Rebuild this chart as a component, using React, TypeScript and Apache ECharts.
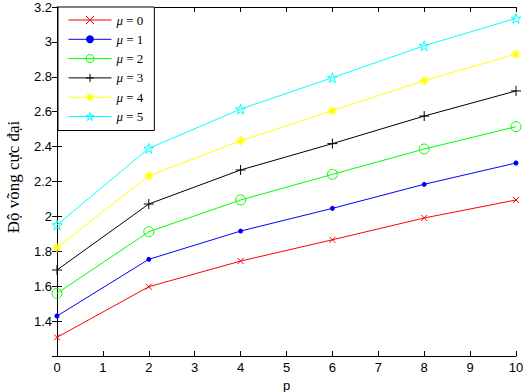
import React, { useEffect, useRef } from "react";
import * as echarts from "echarts";

const pValues = [0, 2, 4, 6, 8, 10];
const mu0 = [1.307, 1.597, 1.744, 1.866, 1.991, 2.094];
const mu1 = [1.429, 1.754, 1.916, 2.046, 2.184, 2.306];
const mu2 = [1.559, 1.912, 2.094, 2.241, 2.386, 2.514];
const mu3 = [1.693, 2.071, 2.266, 2.417, 2.575, 2.719];
const mu4 = [1.821, 2.232, 2.434, 2.606, 2.778, 2.93];
const mu5 = [1.951, 2.39, 2.615, 2.795, 2.978, 3.135];
const seriesNames = ["μ = 0", "μ = 1", "μ = 2", "μ = 3", "μ = 4", "μ = 5"];
const colors = ["#ff0000", "#0000ff", "#00ff00", "#000000", "#ffff00", "#00ffff"];
const yTitle = "Độ võng cực đại";
const xTitle = "p";

const X_PATH = "path://M0,0 L10,10 M10,0 L0,10";
const PLUS_PATH = "path://M5,0 L5,10 M0,5 L10,5";
const AST_PATH = "path://M5,0 L5,10 M0,5 L10,5 M1.5,1.5 L8.5,8.5 M8.5,1.5 L1.5,8.5";
const STAR_PATH =
  "path://M5,0 L6.18,3.62 L10,3.62 L6.91,5.86 L8.09,9.5 L5,7.26 L1.91,9.5 L3.09,5.86 L0,3.62 L3.82,3.62 Z";

export default function App() {
  const ref = useRef<HTMLDivElement>(null);
  useEffect(() => {
    document.body.style.margin = "0";
    const chart = echarts.init(ref.current!, undefined, { renderer: "svg" });
    const dataSets = [mu0, mu1, mu2, mu3, mu4, mu5];
    const symbols = [
      { symbol: X_PATH, size: 6, fill: "transparent", bw: 1 },
      { symbol: "circle", size: 5, fill: colors[1], bw: 0 },
      { symbol: "circle", size: 10, fill: "transparent", bw: 1 },
      { symbol: PLUS_PATH, size: 10, fill: "transparent", bw: 1 },
      { symbol: AST_PATH, size: 9, fill: "transparent", bw: 1.3 },
      { symbol: STAR_PATH, size: 10, fill: "transparent", bw: 1 },
    ];
    const series = dataSets.map((d, i) => ({
      name: seriesNames[i],
      type: "line",
      data: d.map((v, j) => [pValues[j], v]),
      symbol: symbols[i].symbol,
      symbolSize: symbols[i].size,
      showSymbol: true,
      lineStyle: { color: colors[i], width: 1 },
      itemStyle: {
        color: symbols[i].fill,
        borderColor: colors[i],
        borderWidth: symbols[i].bw,
      },
      emphasis: { disabled: true },
      z: 3,
    }));
    const legendData = seriesNames.map((n, i) => ({
      name: n,
      itemStyle: {
        color: symbols[i].fill,
        borderColor: colors[i],
        borderWidth: symbols[i].bw,
      },
      lineStyle: { color: colors[i], width: 1 },
    }));
    const axisLine = { show: true, lineStyle: { color: "#000", width: 1 } };
    const labelStyle = { color: "#000", fontFamily: "Liberation Sans, Arial", fontSize: 13 };
    const serif = "Liberation Serif, Times New Roman, serif";
    chart.setOption({
      animation: false,
      backgroundColor: "#fff",
      grid: { left: 57, right: 7, top: 7, bottom: 36, outerBoundsMode: "none", containLabel: false },
      legend: {
        orient: "vertical",
        left: 58,
        top: 7,
        backgroundColor: "#fff",
        borderColor: "#000",
        borderWidth: 1,
        borderRadius: 0,
        padding: [6, 11, 7, 10],
        itemGap: 5.3,
        itemWidth: 43,
        itemHeight: 10,
        itemTextGap: 6,
        selectedMode: false,
        data: legendData,
        formatter: (name: string) => {
          const parts = name.split(" = ");
          return "{i|μ}{n| = " + parts[1] + "}";
        },
        textStyle: {
          color: "#000",
          fontFamily: serif,
          fontSize: 13,
          lineHeight: 14,
          rich: {
            i: { fontFamily: serif, fontStyle: "italic", fontSize: 13, lineHeight: 14, color: "#000" },
            n: { fontFamily: serif, fontSize: 13, lineHeight: 14, color: "#000" },
          },
        },
        z: 10,
      },
      graphic: [
        {
          type: "text",
          x: 13,
          y: 177,
          rotation: Math.PI / 2,
          style: {
            text: yTitle,
            fontFamily: serif,
            fontSize: 17,
            fill: "#000",
            align: "center",
            verticalAlign: "middle",
          },
        },
      ],
      xAxis: [
        {
          type: "value",
          min: 0,
          max: 10,
          interval: 1,
          position: "bottom",
          name: xTitle,
          nameLocation: "middle",
          nameGap: 21,
          nameTextStyle: { color: "#000", fontFamily: "Liberation Sans, Arial", fontSize: 13 },
          axisLine,
          axisTick: { show: true, inside: true, length: 5, lineStyle: { color: "#000" } },
          axisLabel: { ...labelStyle, margin: 5 },
          splitLine: { show: false },
        },
        {
          type: "value",
          min: 0,
          max: 10,
          interval: 1,
          position: "top",
          axisLine,
          axisTick: { show: true, inside: true, length: 5, lineStyle: { color: "#000" } },
          axisLabel: { show: false },
          splitLine: { show: false },
        },
      ],
      yAxis: [
        {
          type: "value",
          min: 1.2,
          max: 3.2,
          interval: 0.2,
          position: "left",
          axisLine,
          axisTick: { show: true, inside: true, length: 5, lineStyle: { color: "#000" } },
          axisLabel: {
            ...labelStyle,
            margin: 5,
            formatter: (v: number) => (Math.abs(v - 1.2) < 1e-6 ? "" : String(parseFloat(v.toFixed(1)))),
          },
          splitLine: { show: false },
        },
        {
          type: "value",
          min: 1.2,
          max: 3.2,
          interval: 0.2,
          position: "right",
          axisLine,
          axisTick: { show: true, inside: true, length: 5, lineStyle: { color: "#000" } },
          axisLabel: { show: false },
          splitLine: { show: false },
        },
      ],
      series,
    });
    return () => chart.dispose();
  }, []);
  return (
    <div
      ref={ref}
      style={{ position: "absolute", left: 0, top: 0, width: 523, height: 392 }}
    />
  );
}
